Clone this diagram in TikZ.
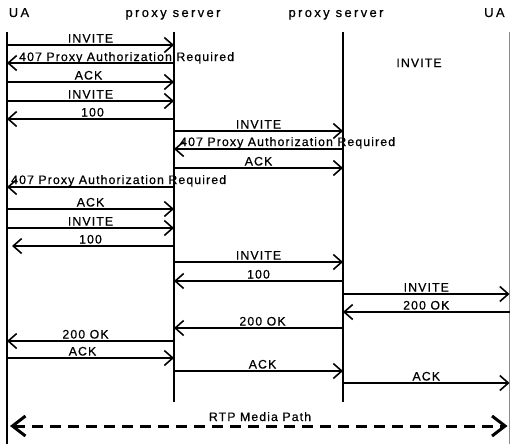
\documentclass[tikz,border=0pt]{standalone}
\usepackage{fontspec}
\setmainfont{Liberation Sans}
\newfontfamily\lblfont[LetterSpace=9,FakeBold=0.6]{Liberation Sans}
\newfontfamily\hdrfont[LetterSpace=18,FakeBold=0.5]{Liberation Sans}
\usetikzlibrary{arrows.meta}

\begin{document}
\begin{tikzpicture}[x=1pt,y=-1pt,
  lifeline/.style={line width=2pt},
  farline/.style={line width=1pt, black!45},
  msg/.style={line width=1.6pt,-{Straight Barb[length=8.5pt,width=15pt]}},
  lbl/.style={font=\lblfont\fontsize{12.3}{13}\selectfont, inner sep=0pt, anchor=base},
  lblw/.style={lbl, anchor=base west},
  hdr/.style={font=\hdrfont\fontsize{13}{14}\selectfont, inner sep=0pt, anchor=base},
  media/.style={line width=3pt, dash pattern=on 11pt off 7pt,
    {Straight Barb[length=13pt,width=20pt]}-{Straight Barb[length=13pt,width=20pt]}}]
\useasboundingbox (0,0) rectangle (510,444);

% participants
\node[hdr] (hua) at (19,17) {UA};
\node[hdr] (hpa) at (173,17) {proxy server};
\node[hdr] (hpb) at (336,17) {proxy server};
\node[hdr, anchor=base west] (hub) at (484,17) {UA};

% lifelines
\coordinate (ua) at (7,32);     \coordinate (uaend) at (7,444);
\coordinate (pa) at (174,32);   \coordinate (paend) at (174,402);
\coordinate (pb) at (343,32);   \coordinate (pbend) at (343,402);
\coordinate (ub) at (509.5,32); \coordinate (ubend) at (509.5,444);
\draw[lifeline] (ua) -- (uaend);
\draw[lifeline] (pa) -- (paend);
\draw[lifeline] (pb) -- (pbend);
\draw[farline] (ub) -- (ubend);

% message rows
\coordinate (r1) at (0,45);   \coordinate (r2) at (0,63);
\coordinate (r3) at (0,82);   \coordinate (r4) at (0,101);
\coordinate (r5) at (0,119);  \coordinate (r6) at (0,131);
\coordinate (r7) at (0,149);  \coordinate (r8) at (0,168);
\coordinate (r9) at (0,187);  \coordinate (r10) at (0,209);
\coordinate (r11) at (0,228); \coordinate (r12) at (0,246);
\coordinate (r13) at (0,262); \coordinate (r14) at (0,281);
\coordinate (r15) at (0,294); \coordinate (r16) at (0,312);
\coordinate (r17) at (0,328); \coordinate (r18) at (0,341);
\coordinate (r19) at (0,358); \coordinate (r20) at (0,371);
\coordinate (r21) at (0,383); \coordinate (r22) at (0,426);

\draw[msg] (ua |- r1) -- (pa |- r1) node[lbl, midway, yshift=2.5pt] (l1) {INVITE};
\draw[msg] (pa |- r2) -- (ua |- r2);
\node[lblw] (l2) at (19,61) {407 Proxy Authorization Required};
\draw[msg] (ua |- r3) -- (pa |- r3) node[lbl, midway, yshift=2.5pt, xshift=-2pt] (l3) {ACK};
\draw[msg] (ua |- r4) -- (pa |- r4) node[lbl, midway, yshift=2.5pt] (l4) {INVITE};
\draw[msg] (pa |- r5) -- (ua |- r5) node[lbl, midway, yshift=2.5pt, xshift=2pt] (l5) {100};

\node[lbl] (lfloat) at (419,67) {INVITE};

\draw[msg] (pa |- r6) -- (pb |- r6) node[lbl, midway, yshift=2.5pt] (l6) {INVITE};
\draw[msg] (pb |- r7) -- (pa |- r7);
\node[lblw] (l7) at (180,146) {407 Proxy Authorization Required};
\draw[msg] (pa |- r8) -- (pb |- r8) node[lbl, midway, yshift=2.5pt] (l8) {ACK};
\draw[msg] (pa |- r9) -- (ua |- r9);
\node[lblw] (l9) at (11,184) {407 Proxy Authorization Required};
\draw[msg] (ua |- r10) -- (pa |- r10) node[lbl, midway, yshift=2.5pt] (l10) {ACK};
\draw[msg] (ua |- r11) -- (pa |- r11) node[lbl, midway, yshift=2.5pt] (l11) {INVITE};
\draw[msg, shorten >=5pt] (pa |- r12) -- (ua |- r12) node[lbl, midway, yshift=2.5pt] (l12) {100};
\draw[msg] (pa |- r13) -- (pb |- r13) node[lbl, midway, yshift=2.5pt] (l13) {INVITE};
\draw[msg] (pb |- r14) -- (pa |- r14) node[lbl, midway, yshift=2.5pt] (l14) {100};
\draw[msg] (pb |- r15) -- (ub |- r15) node[lbl, midway, yshift=2.5pt] (l15) {INVITE};
\draw[msg] (ub |- r16) -- (pb |- r16) node[lbl, midway, yshift=2.5pt] (l16) {200 OK};
\draw[msg] (pb |- r17) -- (pa |- r17) node[lbl, midway, yshift=2.5pt, xshift=4pt] (l17) {200 OK};
\draw[msg] (pa |- r18) -- (ua |- r18) node[lbl, midway, yshift=2.5pt, xshift=-5pt] (l18) {200 OK};
\draw[msg] (ua |- r19) -- (pa |- r19) node[lbl, midway, yshift=2.5pt, xshift=-8pt] (l19) {ACK};
\draw[msg] (pa |- r20) -- (pb |- r20) node[lbl, midway, yshift=2.5pt, xshift=4pt] (l20) {ACK};
\draw[msg] (pb |- r21) -- (ub |- r21) node[lbl, midway, yshift=2.5pt] (l21) {ACK};

% media stream
\draw[media] ([xshift=3pt]ua |- r22) -- ([xshift=-2pt]ub |- r22);
\node[lbl] (l22) at (260,421) {RTP Media Path};
\end{tikzpicture}
\end{document}
